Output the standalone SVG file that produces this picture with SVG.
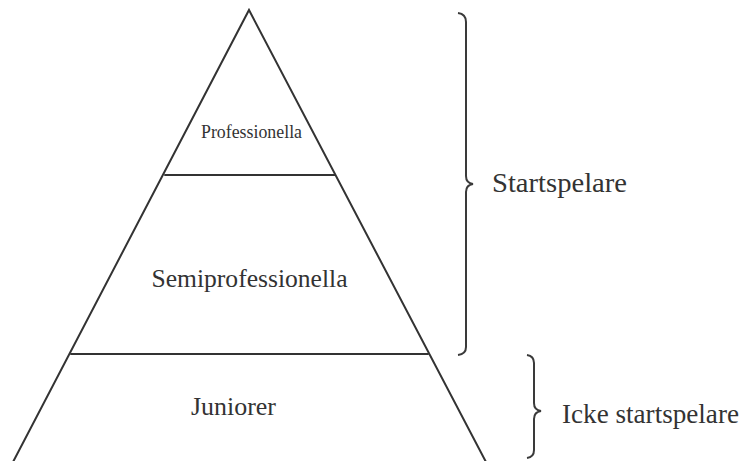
<svg xmlns="http://www.w3.org/2000/svg" width="749" height="461" viewBox="0 0 749 461">
<style>
.ln{stroke:#333;stroke-width:2;fill:none;stroke-linecap:round}
.br{stroke:#3a3a3a;stroke-width:2;fill:none}
.t{font-family:'Liberation Serif','DejaVu Serif',Times,serif;fill:#333}
</style>
<rect width="749" height="461" fill="#fff"/>
<g id="pyramid">
<path class="ln" d="M13,462 L249,10 L486,462"/>
</g>
<g id="professionella">
<line class="ln" x1="165" y1="175" x2="335" y2="175"/>
<text class="t" font-family="Liberation Serif, DejaVu Serif, serif" x="251.5" y="138" font-size="18" text-anchor="middle" textLength="101" lengthAdjust="spacingAndGlyphs">Professionella</text>
</g>
<g id="semiprofessionella">
<line class="ln" x1="71" y1="354" x2="428" y2="354"/>
<text class="t" font-family="Liberation Serif, DejaVu Serif, serif" x="249.5" y="287" font-size="26" text-anchor="middle" textLength="196" lengthAdjust="spacingAndGlyphs">Semiprofessionella</text>
</g>
<g id="juniorer">
<text class="t" font-family="Liberation Serif, DejaVu Serif, serif" x="191" y="415" font-size="26" textLength="85" lengthAdjust="spacingAndGlyphs">Juniorer</text>
</g>
<g id="startspelare">
<path class="br" d="M458,13 Q466,14 466,22 L466,176 Q466,183 473,184 Q466,185 466,192 L466,347 Q466,354 458,355"/>
<text class="t" font-family="Liberation Serif, DejaVu Serif, serif" x="492" y="192" font-size="27" textLength="135" lengthAdjust="spacingAndGlyphs">Startspelare</text>
</g>
<g id="icke-startspelare">
<path class="br" d="M527,355 Q534,356 534,363 L534,403 Q534,410 541,411 Q534,412 534,419 L534,450 Q534,457 527,458"/>
<text class="t" font-family="Liberation Serif, DejaVu Serif, serif" x="562" y="423" font-size="27" textLength="177" lengthAdjust="spacingAndGlyphs">Icke startspelare</text>
</g>
<g id="connectors"></g>
</svg>
